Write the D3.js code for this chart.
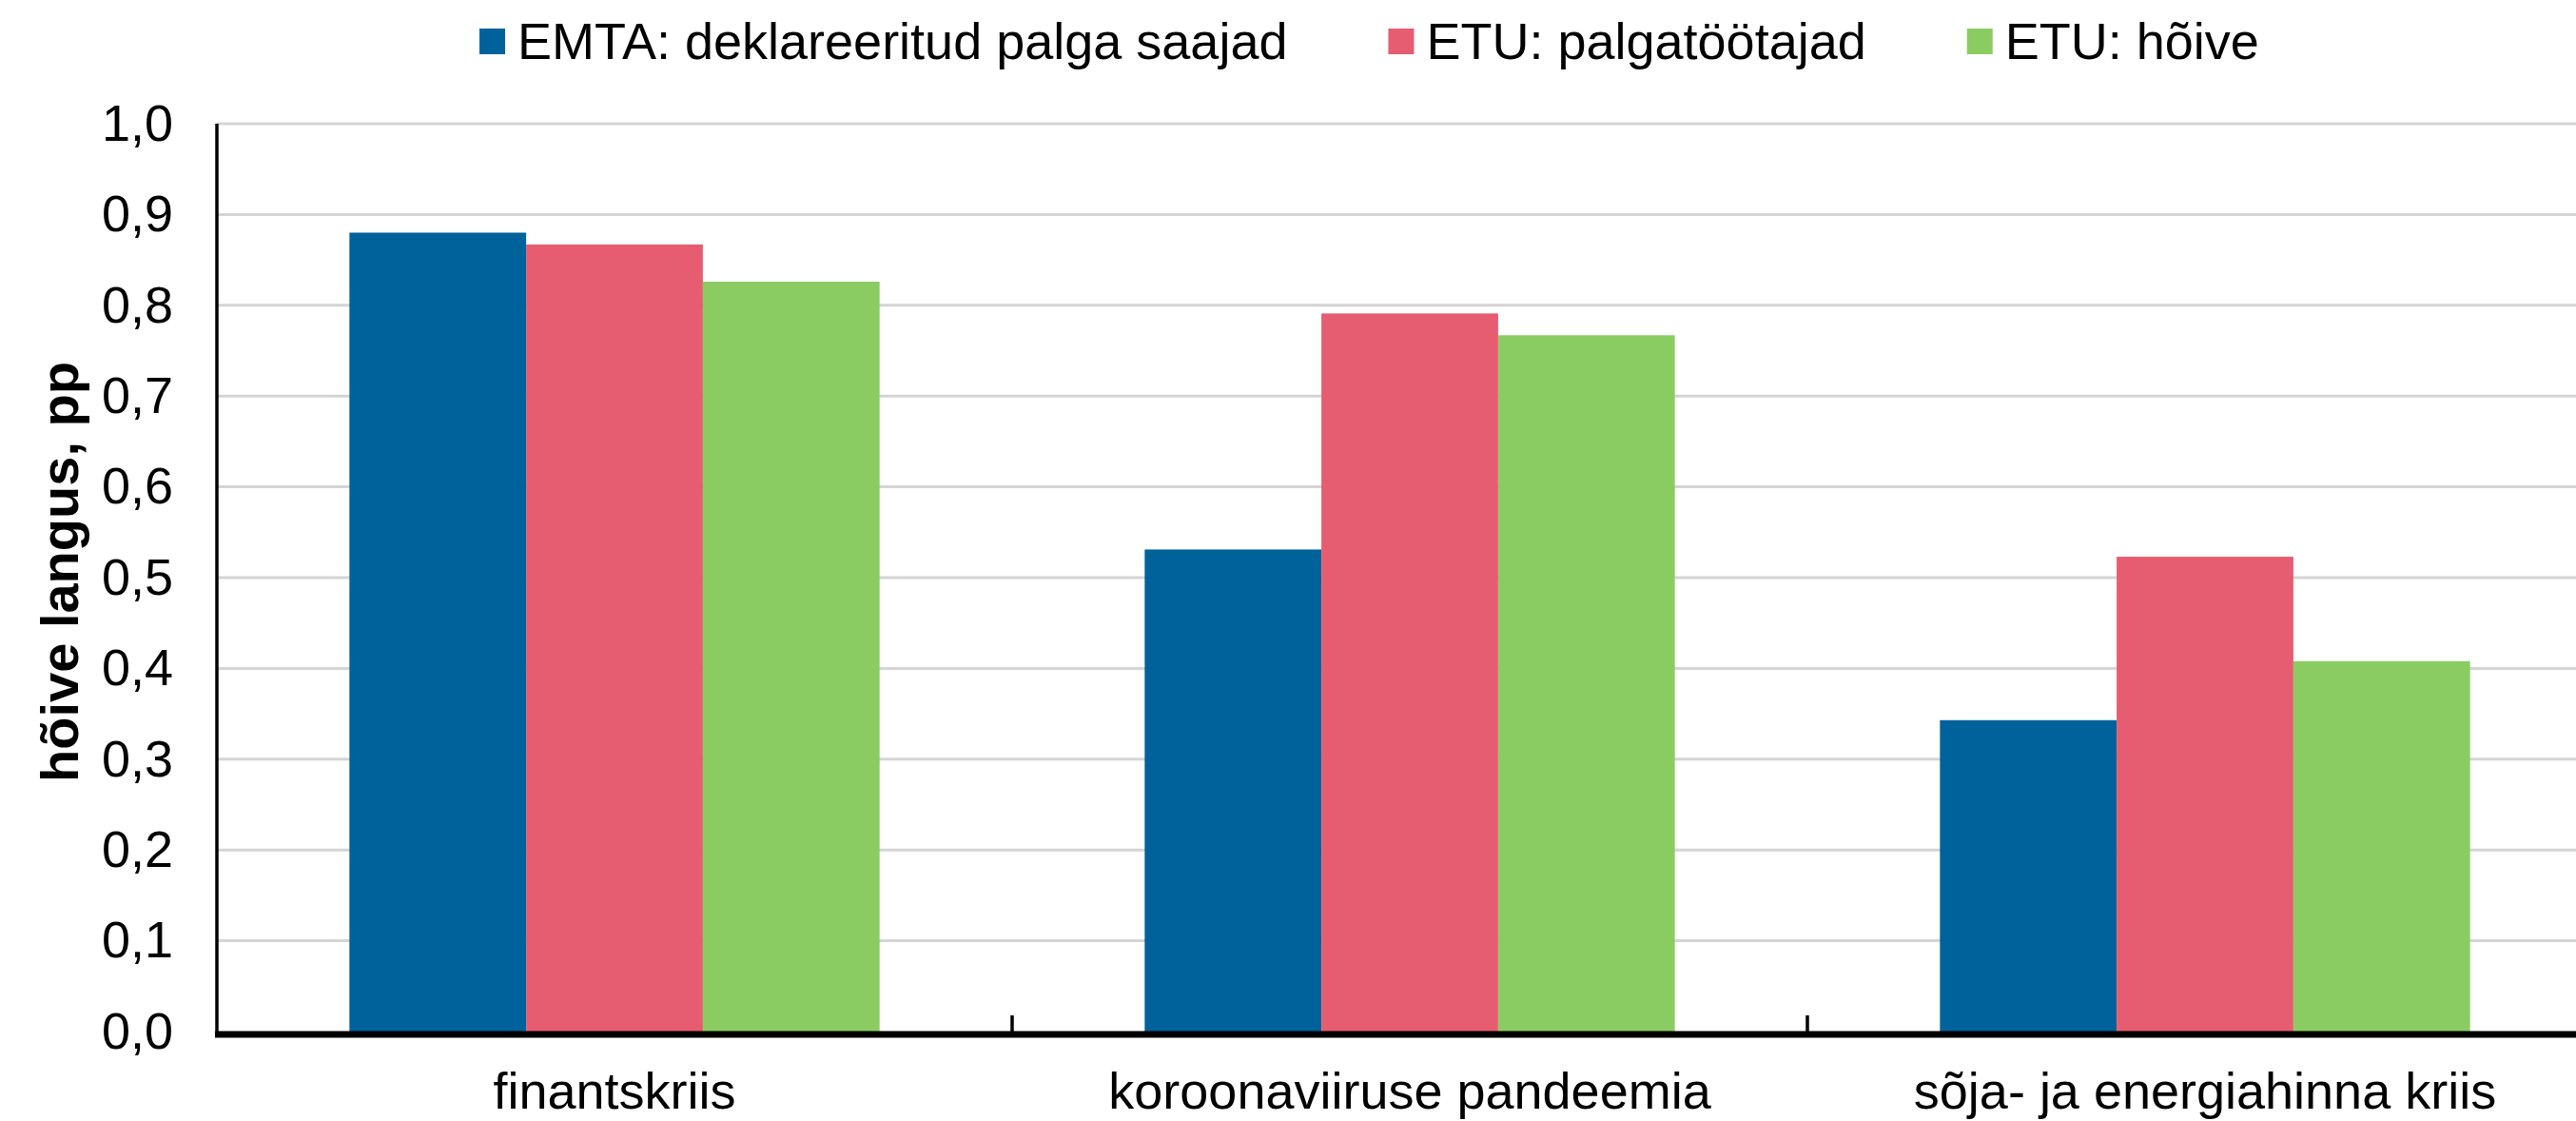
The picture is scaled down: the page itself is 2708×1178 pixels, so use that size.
<!DOCTYPE html>
<html>
<head>
<meta charset="utf-8">
<script src="https://cdn.jsdelivr.net/npm/d3@7"></script>
<style>
  html, body { margin: 0; padding: 0; background: #fff; }
  svg { display: block; }
  text { font-family: "Liberation Sans", Arial, sans-serif; fill: #000; }
</style>
</head>
<body>
<svg id="chart" width="2708" height="1178"></svg>
<script>
// data
var categories = ["finantskriis", "koroonaviiruse pandeemia", "sõja- ja energiahinna kriis"];
var seriesNames = ["EMTA: deklareeritud palga saajad", "ETU: palgatöötajad", "ETU: hõive"];
var emta = [0.880, 0.531, 0.343];
var etuPalk = [0.867, 0.791, 0.523];
var etuHoive = [0.826, 0.767, 0.408];
var yTicks = [0, 0.1, 0.2, 0.3, 0.4, 0.5, 0.6, 0.7, 0.8, 0.9, 1.0];
var colors = ["#00629b", "#e65c70", "#8bcc62"];

var seriesValues = [emta, etuPalk, etuHoive];

var dims = {
  left: 228, right: 2736,
  top: 130, bottom: 1084,
  fontSize: 54
};

var svg = d3.select("#chart");

var locale = d3.formatLocale({decimal: ",", thousands: " ", grouping: [3], currency: ["", "€"]});
var fmt = locale.format(".1f");

var x0 = d3.scaleBand()
  .domain(categories)
  .range([dims.left, dims.right])
  .paddingInner(0).paddingOuter(0);

// excel-ish gap width 150%
var x1 = d3.scaleBand()
  .domain(d3.range(seriesNames.length))
  .range([0, x0.bandwidth()])
  .paddingInner(0).paddingOuter(0.75);

var y = d3.scaleLinear().domain([0, 1]).range([dims.bottom, dims.top]);

// gridlines
svg.append("g").attr("class", "grid")
  .selectAll("line").data(yTicks.slice(1)).enter().append("line")
  .attr("x1", dims.left).attr("x2", 2708)
  .attr("y1", function(d) { return y(d); })
  .attr("y2", function(d) { return y(d); })
  .attr("stroke", "#d4d4d4").attr("stroke-width", 3);

// bars
var groups = svg.append("g").attr("class", "bars")
  .selectAll("g").data(categories).enter().append("g")
  .attr("transform", function(d) { return "translate(" + x0(d) + ",0)"; });

groups.selectAll("rect")
  .data(function(d, ci) { return seriesValues.map(function(vals, si) { return {s: si, v: vals[ci]}; }); })
  .enter().append("rect")
  .attr("x", function(d) { return x1(d.s); })
  .attr("width", x1.bandwidth())
  .attr("y", function(d) { return y(d.v); })
  .attr("height", function(d) { return y(0) - y(d.v); })
  .attr("fill", function(d) { return colors[d.s]; });

// y axis
var yAxis = svg.append("g").attr("class", "y axis")
  .attr("transform", "translate(" + dims.left + ",0)")
  .call(d3.axisLeft(y).tickValues(yTicks).tickFormat(fmt).tickSize(0).tickPadding(46));
yAxis.select(".domain").remove();
yAxis.selectAll("text")
  .attr("font-size", dims.fontSize + "px")
  .style("font-family", "Liberation Sans, Arial, sans-serif")
  .attr("fill", "#000");
svg.append("line")
  .attr("x1", dims.left).attr("x2", dims.left)
  .attr("y1", y(1)).attr("y2", y(0))
  .attr("stroke", "#000").attr("stroke-width", 3.5);

// x axis
var xAxis = svg.append("g").attr("class", "x axis")
  .attr("transform", "translate(0," + (dims.bottom + 3) + ")");
xAxis.append("line")
  .attr("x1", dims.left - 2).attr("x2", 2708)
  .attr("stroke", "#000").attr("stroke-width", 7);
// tick marks between categories
xAxis.selectAll(".tick").data(categories.slice(1)).enter().append("line")
  .attr("class", "tick")
  .attr("x1", function(d) { return x0(d); }).attr("x2", function(d) { return x0(d); })
  .attr("y1", 0).attr("y2", -20)
  .attr("stroke", "#000").attr("stroke-width", 3.5);
xAxis.selectAll(".label").data(categories).enter().append("text")
  .attr("class", "label")
  .attr("x", function(d) { return x0(d) + x0.bandwidth() / 2; })
  .attr("y", 78)
  .attr("text-anchor", "middle")
  .attr("font-size", dims.fontSize + "px")
  .text(function(d) { return d; });

// y title
svg.append("text")
  .attr("transform", "translate(82,601) rotate(-90)")
  .attr("text-anchor", "middle")
  .attr("font-size", "56px")
  .attr("font-weight", "bold")
  .text("hõive langus, pp");

// legend
var legend = svg.append("g").attr("class", "legend");
var lx = 504;
seriesNames.forEach(function(name, i) {
  legend.append("rect")
    .attr("x", lx).attr("y", 30)
    .attr("width", 27).attr("height", 27)
    .attr("fill", colors[i]);
  var t = legend.append("text")
    .attr("x", lx + 40).attr("y", 62)
    .attr("font-size", dims.fontSize + "px")
    .text(name);
  lx = lx + 40 + t.node().getComputedTextLength() + 106;
});
</script>
</body>
</html>
